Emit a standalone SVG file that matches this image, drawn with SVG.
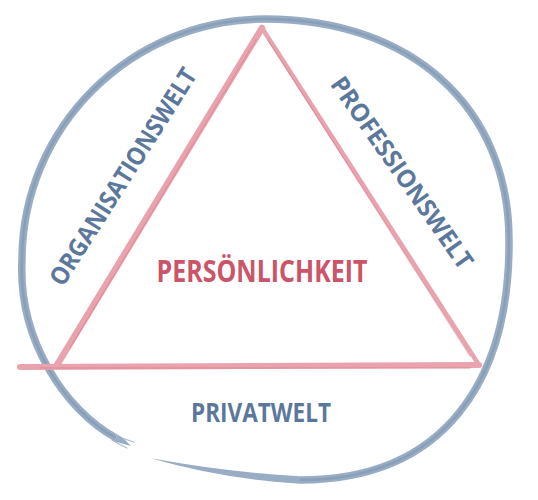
<svg xmlns="http://www.w3.org/2000/svg" width="538" height="500" viewBox="0 0 538 500">
<style>
.ring{fill:none;stroke:#98adc3;stroke-width:7.5;stroke-linecap:butt;stroke-linejoin:round}
.ringcore{fill:none;stroke:#7189a6;stroke-width:2.5;stroke-linecap:butt;opacity:0.4}
.ringtail{fill:#98adc3;stroke:none}
.bristle{fill:none;stroke:#98adc3;stroke-width:1.2;stroke-linecap:round;opacity:0.8}
.tri{fill:none;stroke:#e9a3ae;stroke-linecap:round;stroke-linejoin:miter}
.triHi{fill:none;stroke:#dc7f90;stroke-width:1.3;stroke-linecap:round;opacity:0.55}
.lbl{font-family:"Open Sans","Liberation Sans",sans-serif;font-weight:700;fill:#5b789c}
.center{font-family:"Open Sans","Liberation Sans",sans-serif;font-weight:700;fill:#cc5468}
</style>
<rect width="538" height="500" fill="#ffffff"/>
<g id="circle">
<path class="ring" d="M116,438 C65,410 18,340 22,260 C22,127 131,19 265,19 C411,19 509,107 509,240 C510,380 445,480 300,480"/>
<path class="ringcore" d="M116,438 C65,410 18,340 22,260 C22,127 131,19 265,19 C411,19 509,107 509,240 C510,380 445,480 300,480"/>
<path class="ringtail" d="M300,483.75 Q222,479 150,458 Q225,472 300,476.25 Z"/>
<path class="ringtail" d="M117.8,434.7 Q125,439 131,446 Q123,444 114.2,441.3 Z"/>
<path class="bristle" d="M112,440 Q120,445 127,448 M118,436 Q126,440 134,442"/>
</g>
<g id="triangle">
<path class="tri" stroke-width="6.5" d="M262,28 L57,365"/>
<path class="tri" stroke-width="4.5" d="M262,28 L479,365"/>
<path class="tri" stroke-width="6" d="M20,367 L479,365"/>
<path class="triHi" d="M256,40 L70,348 M268,40 L470,356 M40,368 L470,368"/>
</g>
<g id="persoenlichkeit">
<text class="center" x="262" y="282" font-size="30" text-anchor="middle" textLength="211" lengthAdjust="spacingAndGlyphs">PERSÖNLICHKEIT</text>
</g>
<g id="organisationswelt">
<text class="lbl" font-size="25" text-anchor="middle" dominant-baseline="central" textLength="252" lengthAdjust="spacingAndGlyphs" transform="translate(122,176) rotate(-57.6)">ORGANISATIONSWELT</text>
</g>
<g id="professionswelt">
<text class="lbl" font-size="25" text-anchor="middle" dominant-baseline="central" textLength="228" lengthAdjust="spacingAndGlyphs" transform="translate(403,172) rotate(55)">PROFESSIONSWELT</text>
</g>
<g id="privatwelt">
<text class="lbl" x="261" y="422" font-size="27" text-anchor="middle" textLength="140" lengthAdjust="spacingAndGlyphs">PRIVATWELT</text>
</g>
</svg>
